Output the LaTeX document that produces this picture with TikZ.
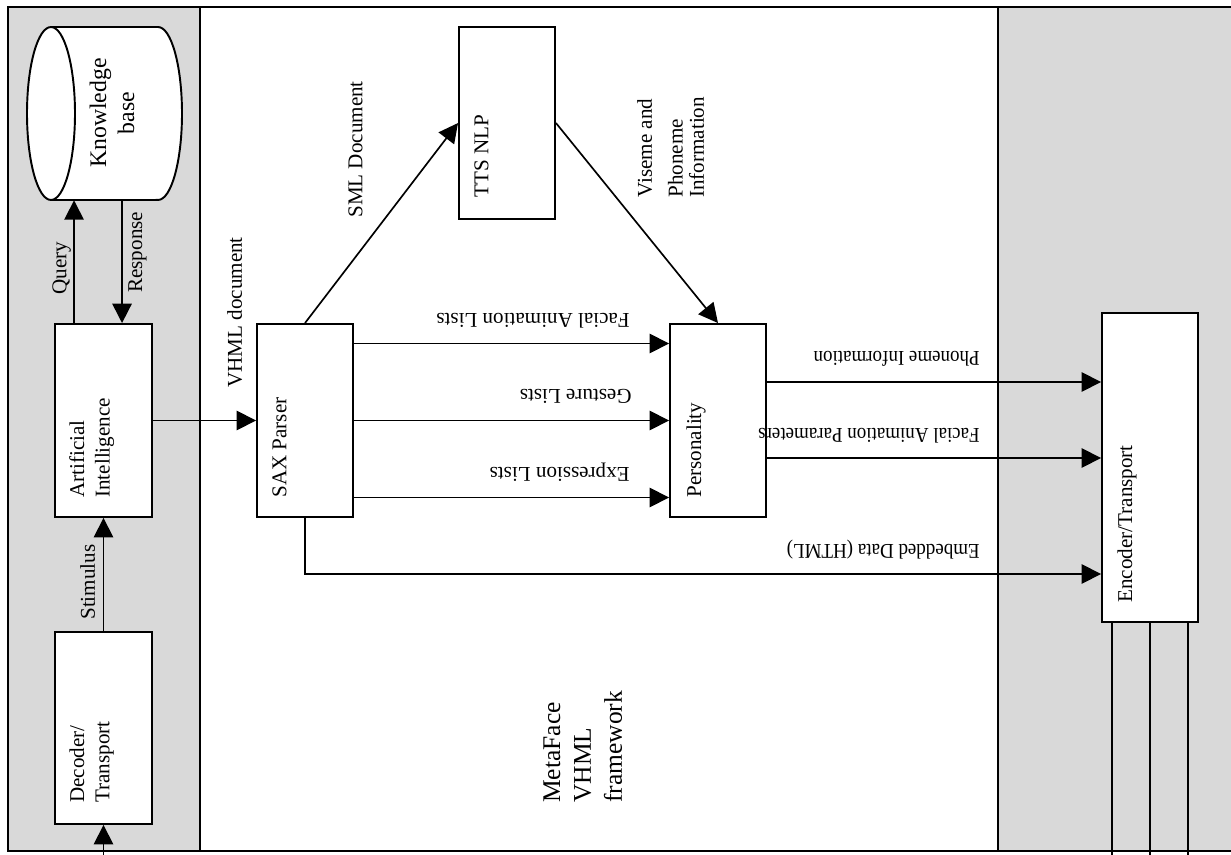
\documentclass[tikz,border=0pt]{standalone}
\usepackage{fontspec}
\setmainfont{Liberation Serif}
\usetikzlibrary{arrows.meta,shapes.geometric,positioning}
\definecolor{panelgray}{RGB}{217,217,217}
\tikzset{
  panel/.style={draw, line width=1.1pt},
  box/.style={draw, fill=white, line width=1.1pt, inner sep=0},
  txt/.style={font=\fontsize{12}{14.5}\selectfont, inner sep=0, align=left},
  arr/.style={line width=.95pt, -{Triangle[length=11pt,width=11pt]}},
  line/.style={line width=.95pt}
}
\begin{document}
\begin{tikzpicture}[x=0.02cm, y=-0.02cm]
\useasboundingbox (0,0) rectangle (1231,855);
\clip (0,0) rectangle (1231,855);
\draw[panel, fill=panelgray] (8,7) rectangle (200,851);
\draw[panel, fill=white] (200,7) rectangle (998,851);
\draw[panel, fill=panelgray] (998,7) rectangle (1250,851);
\coordinate (bot) at (0,862);
\node[inner sep=0, minimum width=3.1cm, minimum height=3.46cm] (kb) at (104.5,113.5) {};
\draw[fill=white, line width=1.1pt] (51,27) -- (158,27) arc[start angle=90, end angle=-90, x radius=0.48cm, y radius=1.73cm] -- (51,200) -- cycle;
\draw[fill=white, line width=1.1pt] (51,113.5) ellipse [x radius=0.48cm, y radius=1.73cm];
\node[txt, rotate=90, align=center, font=\fontsize{13.5}{16}\selectfont] (kbt) at (112,113) {Knowledge\\base};
\node[box, minimum width=1.94cm, minimum height=3.86cm] (ai) at (103.5,420.5) {};
\node[txt, rotate=90, anchor=north west] (ait) at ([shift={(15,-20)}]ai.south west) {Artificial\\Intelligence};
\node[box, minimum width=1.94cm, minimum height=3.84cm] (dec) at (103.5,728) {};
\node[txt, rotate=90, anchor=north west] (dect) at ([shift={(15,-22)}]dec.south west) {Decoder/\\Transport};
\node[box, minimum width=1.92cm, minimum height=3.86cm] (sax) at (305,420.5) {};
\node[txt, rotate=90, anchor=north west] (saxt) at ([shift={(16,-20)}]sax.south west) {SAX Parser};
\node[box, minimum width=1.92cm, minimum height=3.84cm] (tts) at (507,123) {};
\node[txt, rotate=90, anchor=north west] (ttst) at ([shift={(16,-22)}]tts.south west) {TTS NLP};
\node[box, minimum width=1.92cm, minimum height=3.86cm] (pers) at (718,420.5) {};
\node[txt, rotate=90, anchor=north west] (perst) at ([shift={(17,-20)}]pers.south west) {Personality};
\node[box, minimum width=1.92cm, minimum height=6.18cm] (enc) at (1150,467.5) {};
\node[txt, rotate=90, anchor=north west] (enct) at ([shift={(16,-20)}]enc.south west) {Encoder/Transport};
\coordinate (q0) at ([shift={(20,0)}]ai.north west);
\coordinate (r0) at ([shift={(68,0)}]ai.north west);
\draw[arr] (q0) -- (q0 |- kb.south);
\draw[arr] (r0 |- kb.south) -- (r0);
\node[txt, rotate=90, anchor=north west] (ql) at (52,295) {Query};
\node[txt, rotate=90, anchor=north west] (rl) at (128,293) {Response};
\draw[arr] (dec.north) -- (ai.south);
\node[txt, rotate=90, anchor=north west] (sl) at (80,620) {Stimulus};
\coordinate (in) at (dec.south |- bot);
\draw[arr] (in) -- (dec.south);
\draw[arr] (ai.east) -- (sax.west);
\node[txt, rotate=90, anchor=north west] (vl) at (227,388) {VHML document};
\draw[arr] (sax.north) -- (tts.west);
\node[txt, rotate=90, anchor=north west] (sml) at (348,218) {SML Document};
\draw[arr] (tts.east) -- (pers.north);
\node[txt, rotate=90, anchor=north west, font=\fontsize{12}{12}\selectfont] (vis) at (637,198) {Viseme and\\[5.5pt]Phoneme\\Information};
\draw[arr] ([shift={(0,-77)}]sax.east) -- ([shift={(0,-77)}]pers.west);
\draw[arr] (sax.east) -- (pers.west);
\draw[arr] ([shift={(0,77)}]sax.east) -- ([shift={(0,77)}]pers.west);
\node[txt, rotate=180, anchor=north west] (fal) at (630,328) {Facial Animation Lists};
\node[txt, rotate=180, anchor=north west] (gl) at (632,404) {Gesture Lists};
\node[txt, rotate=180, anchor=north west] (el) at (630,482) {Expression Lists};
\draw[arr] ([shift={(0,-38.5)}]pers.east) coordinate (p1) -- (p1 -| enc.west);
\draw[arr] ([shift={(0,37.5)}]pers.east) coordinate (p2) -- (p2 -| enc.west);
\draw[arr] (sax.south) |- ([shift={(0,106.5)}]enc.west);
\node[txt, rotate=180, xscale=.9, anchor=north west] (pil) at (980,367) {Phoneme Information};
\node[txt, rotate=180, xscale=.9, anchor=north west] (fap) at (980,443) {Facial Animation Parameters};
\node[txt, rotate=180, xscale=.9, anchor=north west] (edl) at (980,559) {Embedded Data (HTML)};
\draw[line] ([shift={(-38,0)}]enc.south) coordinate (e1) -- (e1 |- bot);
\draw[line] (enc.south) -- (enc.south |- bot);
\draw[line] ([shift={(38,0)}]enc.south) coordinate (e3) -- (e3 |- bot);
\node[txt, rotate=90, anchor=north west, font=\fontsize{14.5}{17.6}\selectfont] (mf) at (543,803) {MetaFace\\VHML\\framework};
\end{tikzpicture}
\end{document}
